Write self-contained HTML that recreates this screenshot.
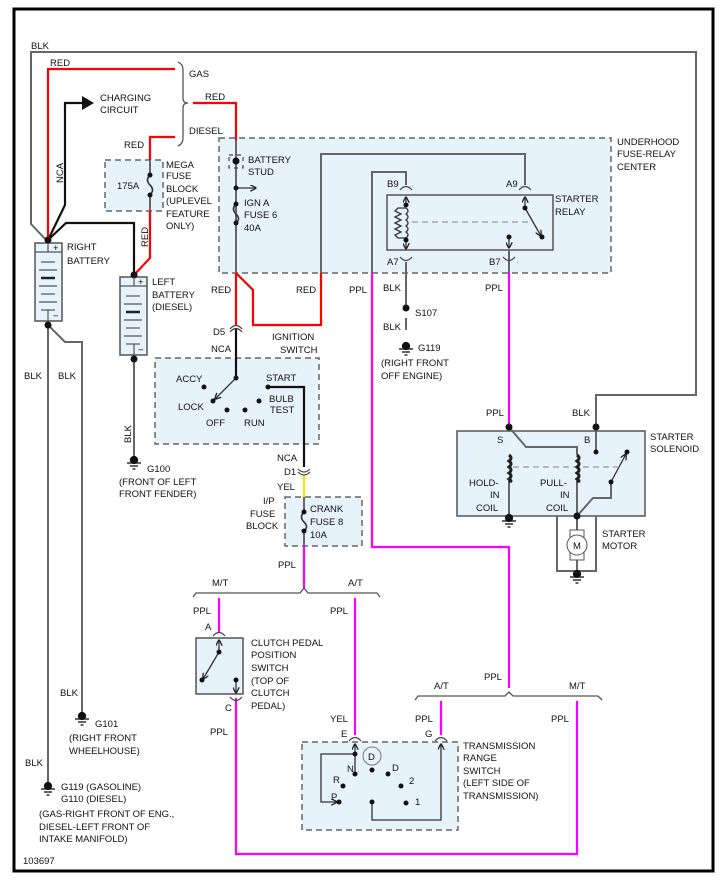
<!DOCTYPE html>
<html><head><meta charset="utf-8"><style>
html,body{margin:0;padding:0;background:#fff}
svg{display:block}
text{font-family:"Liberation Sans",sans-serif;font-size:9.5px;fill:#111}
</style></head><body>
<svg width="727" height="885" viewBox="0 0 727 885" xmlns="http://www.w3.org/2000/svg">
<defs>
<marker id="ah" viewBox="0 0 10 10" refX="9" refY="5" markerWidth="5" markerHeight="5" orient="auto"><path d="M0,0 L10,5 L0,10" fill="none" stroke="#222" stroke-width="2"/></marker>
</defs>
<rect x="14" y="9" width="699" height="862" fill="none" stroke="#000" stroke-width="3"/>

<g fill="#e6f3fb" stroke="#666" stroke-width="1.5" stroke-dasharray="6,4">
<rect x="219" y="138" width="392" height="135"/>
<rect x="105" y="160" width="58" height="51"/>
<rect x="155" y="358" width="164" height="86"/>
<rect x="285" y="497" width="77" height="49"/>
<rect x="302" y="742" width="156" height="88"/>
</g>
<g fill="#e6f3fb" stroke="#555" stroke-width="1.5">
<rect x="387" y="195" width="166" height="55"/>
<rect x="457" y="431" width="188" height="85"/>
<rect x="196" y="638" width="47" height="56"/>
<rect x="35" y="243" width="27" height="78"/>
<rect x="120" y="277" width="27" height="78"/>
</g>

<g fill="none" stroke="#666" stroke-width="2">
<polyline points="48,242 31,224 31,52 696,52 696,395 596,395 596,427"/>
<polyline points="236,140 236,273"/>
<polyline points="321,273 321,154 525,154 525,185"/>
<polyline points="372,273 372,172 406,172 406,185"/>
<polyline points="406,262 406,308"/>
<polyline points="406,318 406,330"/>
<polyline points="48,325 48,782"/>
<polyline points="48,325 65,342 82,342 82,712"/>
<polyline points="134,359 134,457"/>
<polyline points="509,427 526,447 577,447 577,455"/>
<polyline points="509,480 509,516"/>
<polyline points="577,480 577,516"/>
<polyline points="596,427 596,452"/>
<polyline points="611,482 611,498 593,498 577,516"/>
<polyline points="557,516 557,571 596,571 596,516"/>
<polyline points="577,516 577,572"/>
<polyline points="150,160 150,175"/><polyline points="150,195 150,211"/>
<polyline points="236,165 236,204"/>
<polyline points="509,250 509,273"/>
<polyline points="304,497 304,512"/><polyline points="304,531 304,546"/>
</g>
<g fill="none" stroke="#111" stroke-width="2.2">
<polyline points="48,240 65,205 65,103 84,103"/>
<polyline points="48,240 66,223 134,223 134,273"/>
<polyline points="236,328 236,378"/>
<polyline points="268,387 304,387 304,467"/>
</g>
<polygon points="82,96 94,103 82,110" fill="#111"/>

<g fill="none" stroke="#f00" stroke-width="2.2">
<polyline points="48,240 48,69 175,69"/>
<polyline points="193,103 236,103 236,140"/>
<polyline points="150,160 150,137 175,137"/>
<polyline points="150,211 150,258 134,275"/>
<polyline points="236,273 236,325"/>
<polyline points="236,273 253,290 253,325 321,325 321,273"/>
</g>
<g fill="none" stroke="#f0f" stroke-width="2.2">
<polyline points="372,273 372,547 509,547 509,688"/>
<polyline points="509,273 509,425"/>
<polyline points="304,546 304,588"/>
<polyline points="219,598 219,632"/>
<polyline points="236,698 236,854 577,854 577,701"/>
<polyline points="355,598 355,735"/>
<polyline points="441,701 441,735"/>
</g>
<line x1="304" y1="475" x2="304" y2="497" stroke="#ee0" stroke-width="2.2"/>

<g fill="none" stroke="#555" stroke-width="1.3">
<path d="M178,62 Q183,64 183,70 L183,98 Q183,103 188,103 Q183,103 183,108 L183,138 Q183,144 178,146"/>
<path d="M193,597 L196,593 L300,593 L304,588 L308,593 L377,593 L380,597"/>
<path d="M415,700 L418,696 L505,696 L509,692 L513,696 L598,696 L602,700"/>
</g>

<g fill="none" stroke="#444" stroke-width="1.2">
<path d="M230,332 Q236,325 242,332"/><path d="M230,329 Q236,322 242,329"/>
<path d="M298,472 Q304,478 310,472"/><path d="M298,469 Q304,475 310,469"/>
<path d="M400,190 Q406,183 412,190"/><path d="M519,190 Q525,183 531,190"/>
<path d="M400,257 Q406,264 412,257"/><path d="M503,257 Q509,264 515,257"/>
<path d="M213,636 Q219,629 225,636"/><path d="M230,697 Q236,704 242,697"/>
<path d="M349,741 Q355,734 361,741"/><path d="M435,741 Q441,734 447,741"/>
<rect x="229" y="155" width="14" height="13" stroke-dasharray="4,4"/>
</g>
<g fill="none" stroke="#333" stroke-width="1.3">
<line x1="236" y1="188" x2="256" y2="188" marker-end="url(#ah)"/>
<line x1="236" y1="378" x2="215" y2="399" marker-end="url(#ah)"/>
<line x1="219" y1="652" x2="219" y2="640" marker-end="url(#ah)"/>
<line x1="219" y1="652" x2="203" y2="679" marker-end="url(#ah)"/>
<line x1="236" y1="680" x2="236" y2="693" marker-end="url(#ah)"/>
<line x1="355" y1="754" x2="355" y2="744" marker-end="url(#ah)"/>
<polyline points="355,754 321,754 321,802 337,802" marker-end="url(#ah)"/>
<polyline points="372,802 372,820 441,820 441,744" marker-end="url(#ah)"/>
<line x1="355" y1="754" x2="355" y2="774"/>
<line x1="406" y1="205" x2="406" y2="197" marker-end="url(#ah)"/>
<line x1="406" y1="240" x2="406" y2="249" marker-end="url(#ah)"/>
<line x1="525" y1="208" x2="525" y2="197" marker-end="url(#ah)"/>
<line x1="525" y1="208" x2="541" y2="236" marker-end="url(#ah)"/>
<line x1="509" y1="237" x2="509" y2="248" marker-end="url(#ah)"/>
<line x1="611" y1="482" x2="626" y2="454" marker-end="url(#ah)"/>
<path d="M406,208 L398,208 L395,211 L401,214 L395,217 L401,220 L395,223 L401,226 L395,229 L401,232 L395,235 L398,238 L406,238"/>
<path d="M406,208 q4,3 0,6 q4,3 0,6 q4,3 0,6 q4,3 0,6 q4,3 0,6"/>
<path d="M150,175 q-5,5 0,10 q5,5 0,10" stroke-width="1.6"/>
<path d="M236,204 q-5,5 0,10 q5,5 0,9" stroke-width="1.6"/>
<path d="M304,512 q-5,5 0,10 q5,5 0,9" stroke-width="1.6"/>
</g>
<g stroke="#999" stroke-width="1.2" stroke-dasharray="6,4">
<line x1="412" y1="222" x2="530" y2="222"/>
<line x1="513" y1="467" x2="620" y2="467"/>
</g>
<g fill="none" stroke="#222" stroke-width="3">
<path d="M509,455 q4,3 0,6 q4,3 0,6 q4,3 0,6 q4,3 0,6 q4,3 0,2"/>
<path d="M577,455 q4,3 0,6 q4,3 0,6 q4,3 0,6 q4,3 0,6 q4,3 0,2"/>
</g>
<rect x="570" y="530" width="14" height="30" fill="#fff" stroke="#555"/>
<circle cx="577" cy="545" r="10" fill="#fff" stroke="#555"/>
<text x="573" y="549" font-size="9">M</text>

<g fill="#111">
<circle cx="236" cy="161" r="3.5"/><circle cx="236" cy="188" r="2.5"/>
<circle cx="236" cy="204" r="2.5"/><circle cx="236" cy="223" r="2.5"/>
<circle cx="150" cy="175" r="2.5"/><circle cx="150" cy="195" r="2.5"/>
<circle cx="304" cy="512" r="2.5"/><circle cx="304" cy="531" r="2.5"/>
<circle cx="48" cy="240" r="3.5"/><circle cx="134" cy="275" r="3.5"/>
<circle cx="48" cy="325" r="3.5"/><circle cx="134" cy="359" r="3.5"/>
<circle cx="406" cy="205" r="2.5"/><circle cx="406" cy="240" r="2.5"/>
<circle cx="525" cy="208" r="2.5"/><circle cx="542" cy="237" r="2.5"/>
<circle cx="509" cy="237" r="2.5"/>
<circle cx="406" cy="308" r="3.5"/>
<circle cx="236" cy="378" r="2.5"/><circle cx="204" cy="387" r="2.5"/>
<circle cx="213" cy="401" r="2.5"/><circle cx="227" cy="410" r="2.5"/>
<circle cx="245" cy="410" r="2.5"/><circle cx="259" cy="401" r="2.5"/>
<circle cx="268" cy="387" r="2.5"/>
<circle cx="509" cy="427" r="3.5"/><circle cx="596" cy="427" r="3.5"/>
<circle cx="596" cy="452" r="2.5"/><circle cx="627" cy="452" r="2.5"/>
<circle cx="611" cy="482" r="2.5"/><circle cx="577" cy="516" r="3.5"/>
<circle cx="219" cy="652" r="2.5"/><circle cx="202" cy="680" r="2.5"/>
<circle cx="236" cy="680" r="2.5"/>
<circle cx="355" cy="754" r="2.5"/><circle cx="355" cy="774" r="2.5"/>
<circle cx="372" cy="770" r="2.5"/><circle cx="388" cy="774" r="2.5"/>
<circle cx="343" cy="786" r="2.5"/><circle cx="401" cy="786" r="2.5"/>
<circle cx="339" cy="802" r="2.5"/><circle cx="372" cy="802" r="2.5"/>
<circle cx="406" cy="803" r="2.5"/>
</g>
<circle cx="372" cy="756" r="9" fill="none" stroke="#777"/>
<text x="368" y="760">D</text>

<g stroke="#111" stroke-width="1.3">
<g transform="translate(406,346)"><circle r="3.5" fill="#111"/><line x1="-7" y1="3" x2="7" y2="3"/><line x1="-4" y1="6" x2="4" y2="6"/><line x1="-1.5" y1="9" x2="1.5" y2="9"/></g>
<g transform="translate(134,460)"><circle r="3.5" fill="#111"/><line x1="-7" y1="3" x2="7" y2="3"/><line x1="-4" y1="6" x2="4" y2="6"/><line x1="-1.5" y1="9" x2="1.5" y2="9"/></g>
<g transform="translate(82,716)"><circle r="3.5" fill="#111"/><line x1="-7" y1="3" x2="7" y2="3"/><line x1="-4" y1="6" x2="4" y2="6"/><line x1="-1.5" y1="9" x2="1.5" y2="9"/></g>
<g transform="translate(48,786)"><circle r="3.5" fill="#111"/><line x1="-7" y1="3" x2="7" y2="3"/><line x1="-4" y1="6" x2="4" y2="6"/><line x1="-1.5" y1="9" x2="1.5" y2="9"/></g>
<g transform="translate(509,518)"><circle r="3.5" fill="#111"/><line x1="-7" y1="3" x2="7" y2="3"/><line x1="-4" y1="6" x2="4" y2="6"/><line x1="-1.5" y1="9" x2="1.5" y2="9"/></g>
<g transform="translate(577,574)"><circle r="3.5" fill="#111"/><line x1="-7" y1="3" x2="7" y2="3"/><line x1="-4" y1="6" x2="4" y2="6"/><line x1="-1.5" y1="9" x2="1.5" y2="9"/></g>
</g>

<g stroke="#555" stroke-width="1.2">
<line x1="35" y1="252" x2="62" y2="252"/><line x1="48" y1="243" x2="48" y2="252"/>
<line x1="41" y1="262" x2="55" y2="262"/><line x1="39" y1="270" x2="57" y2="270"/>
<line x1="41" y1="278" x2="55" y2="278" stroke-width="2.5" stroke="#222"/><line x1="39" y1="286" x2="57" y2="286"/>
<line x1="41" y1="294" x2="55" y2="294"/><line x1="39" y1="302" x2="57" y2="302"/>
<line x1="41" y1="310" x2="55" y2="310"/><line x1="48" y1="310" x2="48" y2="321"/>
<line x1="120" y1="286" x2="147" y2="286"/><line x1="134" y1="277" x2="134" y2="286"/>
<line x1="126" y1="296" x2="140" y2="296"/><line x1="124" y1="304" x2="142" y2="304"/>
<line x1="126" y1="312" x2="140" y2="312" stroke-width="2.5" stroke="#222"/><line x1="124" y1="320" x2="142" y2="320"/>
<line x1="126" y1="328" x2="140" y2="328"/><line x1="124" y1="336" x2="142" y2="336"/>
<line x1="126" y1="344" x2="140" y2="344"/><line x1="134" y1="344" x2="134" y2="355"/>
</g>
<text x="53" y="251" font-size="9">+</text><text x="53" y="319" font-size="8">−</text>
<text x="138" y="285" font-size="9">+</text><text x="138" y="353" font-size="8">−</text>

<text x="31" y="49">BLK</text>
<text x="50" y="66">RED</text>
<text x="189" y="77">GAS</text>
<text x="100" y="101">CHARGING</text><text x="100" y="113">CIRCUIT</text>
<text x="205" y="100">RED</text>
<text x="189" y="134">DIESEL</text>
<text x="124" y="148">RED</text>
<text x="166" y="168">MEGA</text><text x="166" y="179">FUSE</text><text x="166" y="192">BLOCK</text><text x="166" y="204">(UPLEVEL</text><text x="166" y="217">FEATURE</text><text x="166" y="229">ONLY)</text>
<text x="117" y="189">175A</text>
<text transform="translate(63,183) rotate(-90)">NCA</text>
<text transform="translate(148,247) rotate(-90)">RED</text>
<text x="67" y="250">RIGHT</text><text x="67" y="264">BATTERY</text>
<text x="152" y="285">LEFT</text><text x="152" y="298">BATTERY</text><text x="152" y="310">(DIESEL)</text>
<text x="248" y="163">BATTERY</text><text x="248" y="175">STUD</text>
<text x="244" y="206">IGN A</text><text x="244" y="218">FUSE 6</text><text x="244" y="231">40A</text>
<text x="617" y="145">UNDERHOOD</text><text x="617" y="157">FUSE-RELAY</text><text x="617" y="170">CENTER</text>
<text x="387" y="187">B9</text><text x="506" y="187">A9</text>
<text x="555" y="202">STARTER</text><text x="555" y="215">RELAY</text>
<text x="387" y="265">A7</text><text x="489" y="265">B7</text>
<text x="211" y="293">RED</text><text x="296" y="293">RED</text>
<text x="349" y="293">PPL</text><text x="383" y="291">BLK</text><text x="485" y="291">PPL</text>
<text x="415" y="316">S107</text><text x="383" y="330">BLK</text>
<text x="418" y="351">G119</text>
<text x="381" y="366">(RIGHT FRONT</text><text x="381" y="379">OFF ENGINE)</text>
<text x="213" y="335">D5</text><text x="211" y="352">NCA</text>
<text x="272" y="340">IGNITION</text><text x="280" y="353">SWITCH</text>
<text x="176" y="382">ACCY</text><text x="178" y="410">LOCK</text><text x="206" y="426">OFF</text><text x="244" y="426">RUN</text>
<text x="266" y="381">START</text><text x="269" y="402">BULB</text><text x="270" y="413">TEST</text>
<text transform="translate(131,443) rotate(-90)">BLK</text>
<text x="147" y="472">G100</text><text x="119" y="485">(FRONT OF LEFT</text><text x="119" y="497">FRONT FENDER)</text>
<text x="24" y="379">BLK</text><text x="58" y="379">BLK</text>
<text x="277" y="461">NCA</text><text x="284" y="475">D1</text><text x="277" y="490">YEL</text>
<text x="263" y="504">I/P</text><text x="250" y="517">FUSE</text><text x="246" y="529">BLOCK</text>
<text x="310" y="512">CRANK</text><text x="310" y="525">FUSE 8</text><text x="310" y="538">10A</text>
<text x="278" y="568">PPL</text>
<text x="212" y="586">M/T</text><text x="348" y="586">A/T</text>
<text x="193" y="614">PPL</text><text x="330" y="614">PPL</text>
<text x="205" y="630">A</text>
<text x="251" y="646">CLUTCH PEDAL</text><text x="251" y="658">POSITION</text><text x="251" y="671">SWITCH</text><text x="251" y="684">(TOP OF</text><text x="251" y="696">CLUTCH</text><text x="251" y="709">PEDAL)</text>
<text x="225" y="711">C</text><text x="210" y="735">PPL</text>
<text x="486" y="416">PPL</text><text x="572" y="416">BLK</text>
<text x="497" y="443">S</text><text x="584" y="443">B</text>
<text x="650" y="440">STARTER</text><text x="650" y="452">SOLENOID</text>
<text x="469" y="486">HOLD-</text><text x="490" y="498">IN</text><text x="476" y="511">COIL</text>
<text x="540" y="486">PULL-</text><text x="560" y="498">IN</text><text x="546" y="511">COIL</text>
<text x="602" y="537">STARTER</text><text x="602" y="549">MOTOR</text>
<text x="484" y="680">PPL</text><text x="434" y="689">A/T</text><text x="569" y="689">M/T</text>
<text x="330" y="722">YEL</text><text x="415" y="722">PPL</text><text x="551" y="722">PPL</text>
<text x="341" y="737">E</text><text x="425" y="737">G</text>
<text x="463" y="749">TRANSMISSION</text><text x="463" y="761">RANGE</text><text x="463" y="774">SWITCH</text><text x="463" y="786">(LEFT SIDE OF</text><text x="463" y="799">TRANSMISSION)</text>
<text x="347" y="772">N</text><text x="392" y="771">D</text><text x="333" y="783">R</text><text x="409" y="784">2</text><text x="331" y="800">P</text><text x="415" y="805">1</text>
<text x="60" y="696">BLK</text>
<text x="95" y="727">G101</text><text x="69" y="741">(RIGHT FRONT</text><text x="69" y="754">WHEELHOUSE)</text>
<text x="25" y="766">BLK</text>
<text x="61" y="790">G119 (GASOLINE)</text><text x="61" y="802">G110 (DIESEL)</text>
<text x="39" y="817">(GAS-RIGHT FRONT OF ENG.,</text><text x="39" y="830">DIESEL-LEFT FRONT OF</text><text x="39" y="842">INTAKE MANIFOLD)</text>
<text x="23" y="864">103697</text>
</svg>
</body></html>
